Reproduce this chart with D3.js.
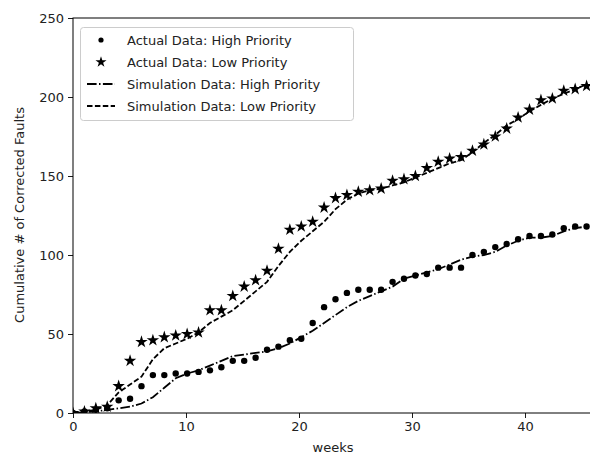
<!DOCTYPE html>
<html><head><meta charset="utf-8">
<script src="https://cdn.jsdelivr.net/npm/d3@7"></script>
<style>body{margin:0;background:#fff;}svg{display:block;font-family:"DejaVu Sans",sans-serif;}</style>
</head><body><svg id="c" width="590" height="456"></svg>
<script>
const weeks = [0,1.01,2.02,3.03,4.04,5.05,6.06,7.07,8.08,9.09,10.1,11.11,12.12,13.13,14.14,15.15,16.16,17.17,18.18,19.19,20.2,21.21,22.22,23.23,24.24,25.25,26.26,27.27,28.28,29.29,30.3,31.31,32.32,33.33,34.34,35.35,36.36,37.37,38.38,39.39,40.4,41.41,42.42,43.43,44.44,45.45];
const actualHigh = [0,1,2,3,8,9,17,24,24,25,25,26,27,29,33,33,35,40,42,46,47,57,67,72,76,78,78,78,83,85,87,88,92,92,92,100,102,105,107,110,112,112,113,117,118,118];
const actualLow = [0,1,3,4,17,33,45,46,48,49,50,51,65,65,74,80,84,90,104,116,118,121,130,136,138,140,141,142,147,148,150,155,159,161,162,166,170,175,180,187,192,198,199,204,205,207];
const simHigh = [0,0.5,1,2,3,4,6,10,16,22,25,27,30,33,36,37,38,39,41,44,48,52,57,62,67,71,74,77,80,85,87,89,91,94,97,99,100,102,106,109,111,111,112,115,117,118];
const simLow = [0,1,2,5,13,18,23,34,41,44,47,51,57,61,65,71,77,83,93,102,109,115,121,129,135,139,141,142,144,146,149,152,155,158,160,165,171,176,182,186,191,195,199,202,205,208];
const xTicks = [0,10,20,30,40];
const yTicks = [0,50,100,150,200,250];
const legendLabels = ["Actual Data: High Priority","Actual Data: Low Priority","Simulation Data: High Priority","Simulation Data: Low Priority"];

const svg = d3.select("#c");
const L = 73, T = 18, B = 413, R = 600;
const x = d3.scaleLinear().domain([0, (R - L) / 11.3]).range([L, R]);
const y = d3.scaleLinear().domain([0, 250]).range([B, T]);

const clip = svg.append("clipPath").attr("id","pc").append("rect").attr("x",L).attr("y",T).attr("width",R-L).attr("height",B-T);
const g = svg.append("g").attr("clip-path","url(#pc)");

const line = arr => d3.line().x((d,i)=>x(weeks[i])).y(d=>y(d))(arr);
g.append("path").attr("d", line(simHigh)).attr("fill","none").attr("stroke","#000").attr("stroke-width",1.8).attr("stroke-dasharray","9.6,2.4,1.5,2.4");
g.append("path").attr("d", line(simLow)).attr("fill","none").attr("stroke","#000").attr("stroke-width",1.8).attr("stroke-dasharray","5.5,2.4");

g.selectAll("circle.h").data(actualHigh).enter().append("circle").attr("class","h")
  .attr("cx",(d,i)=>x(weeks[i])).attr("cy",d=>y(d)).attr("r",3.2).attr("fill","#000");
const star = d3.symbol().type(d3.symbolStar).size(48);
g.selectAll("path.s").data(actualLow).enter().append("path").attr("class","s")
  .attr("d",star).attr("transform",(d,i)=>`translate(${x(weeks[i])},${y(d)})`).attr("fill","#000");

// axes
const xa = svg.append("g").attr("transform",`translate(0,${B})`).call(d3.axisBottom(x).tickValues(xTicks).tickSize(5).tickPadding(4));
const ya = svg.append("g").attr("transform",`translate(${L},0)`).call(d3.axisLeft(y).tickValues(yTicks).tickSize(5).tickPadding(4));
[xa,ya].forEach(a=>{a.select(".domain").remove();a.selectAll("text").attr("font-size",13).attr("font-family","DejaVu Sans").attr("fill","#222");a.selectAll("line").attr("stroke","#000").attr("stroke-width",0.9);});
svg.append("rect").attr("x",L).attr("y",T).attr("width",R-L).attr("height",B-T).attr("fill","none").attr("stroke","#000").attr("stroke-width",1);

svg.append("text").attr("x",333).attr("y",452).attr("text-anchor","middle").attr("font-size",13).attr("fill","#222").text("weeks");
svg.append("text").attr("transform","translate(24,215) rotate(-90)").attr("text-anchor","middle").attr("font-size",13).attr("fill","#222").text("Cumulative # of Corrected Faults");

// legend
const lg = svg.append("g");
lg.append("rect").attr("x",80.5).attr("y",27.5).attr("width",273).attr("height",93).attr("rx",3).attr("fill","#fff").attr("fill-opacity",0.85).attr("stroke","#ccc");
const rowsY = [40,62,84,106];
legendLabels.forEach((t,i)=>{
  const yy = rowsY[i];
  if(i===0) lg.append("circle").attr("cx",101).attr("cy",yy).attr("r",2.6).attr("fill","#000");
  if(i===1) lg.append("path").attr("d",d3.symbol().type(d3.symbolStar).size(38)()).attr("transform",`translate(101,${yy})`).attr("fill","#000");
  if(i===2) lg.append("line").attr("x1",87).attr("x2",115).attr("y1",yy).attr("y2",yy).attr("stroke","#000").attr("stroke-width",1.8).attr("stroke-dasharray","9.6,2.4,1.5,2.4");
  if(i===3) lg.append("line").attr("x1",87).attr("x2",115).attr("y1",yy).attr("y2",yy).attr("stroke","#000").attr("stroke-width",1.8).attr("stroke-dasharray","5.5,2.4");
  lg.append("text").attr("x",127).attr("y",yy+4.5).attr("font-size",13).attr("fill","#222").text(t);
});
</script></body></html>
